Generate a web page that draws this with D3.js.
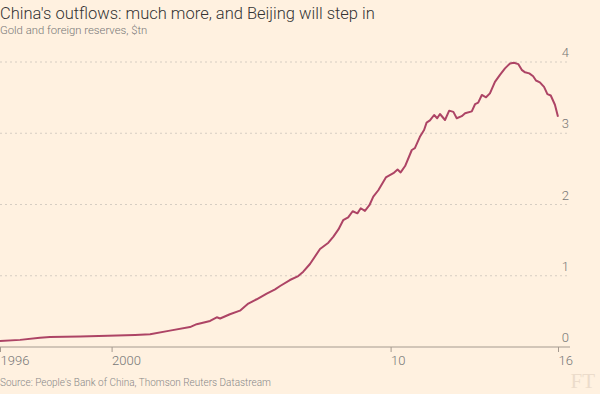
<!DOCTYPE html>
<html>
<head>
<meta charset="utf-8">
<script src="https://cdn.jsdelivr.net/npm/d3@7"></script>
<style>
  body { margin: 0; background: #fff1e0; }
  svg { display: block; font-family: Roboto, "Liberation Sans", sans-serif; }
</style>
</head>
<body>
<svg id="chart"></svg>
<script>
// Gold and foreign reserves, $tn (decimal years)
var dates = [1996.00, 1996.72, 1997.43, 1997.79, 1998.87, 1999.87, 2000.84, 2001.38, 2002.09, 2002.81,
    2003.05, 2003.53, 2003.77, 2003.89, 2004.24, 2004.60, 2004.90, 2005.20, 2005.56, 2005.86,
    2006.04, 2006.39, 2006.69, 2006.87, 2007.11, 2007.47, 2007.77, 2007.95, 2008.13, 2008.30,
    2008.48, 2008.64, 2008.81, 2008.93, 2009.08, 2009.24, 2009.38, 2009.56, 2009.83, 2010.10,
    2010.25, 2010.36, 2010.52, 2010.76, 2010.87, 2011.05, 2011.20, 2011.29, 2011.41, 2011.56,
    2011.67, 2011.77, 2011.95, 2012.10, 2012.25, 2012.37, 2012.55, 2012.67, 2012.91, 2013.03,
    2013.14, 2013.27, 2013.42, 2013.56, 2013.74, 2013.92, 2014.10, 2014.28, 2014.42, 2014.58,
    2014.70, 2014.82, 2014.97, 2015.11, 2015.21, 2015.35, 2015.50, 2015.62, 2015.74, 2015.89,
    2016.00];
var reserves = [0.084, 0.10, 0.13, 0.14, 0.148, 0.158, 0.17, 0.18, 0.23, 0.28,
    0.32, 0.365, 0.417, 0.40, 0.46, 0.51, 0.61, 0.67, 0.75, 0.81,
    0.856, 0.94, 0.996, 1.057, 1.165, 1.375, 1.464, 1.55, 1.65, 1.78,
    1.82, 1.905, 1.876, 1.947, 1.91, 1.99, 2.11, 2.20, 2.38, 2.44,
    2.49, 2.45, 2.54, 2.765, 2.79, 2.95, 3.046, 3.15, 3.18, 3.256,
    3.21, 3.27, 3.186, 3.317, 3.30, 3.21, 3.24, 3.28, 3.307, 3.41,
    3.43, 3.537, 3.505, 3.56, 3.72, 3.82, 3.91, 3.98, 3.99, 3.97,
    3.89, 3.855, 3.84, 3.80, 3.74, 3.715, 3.65, 3.55, 3.53, 3.40,
    3.23];

var xTicks = [1996, 2000, 2010, 2016];
var xTickLabels = ["1996", "2000", "10", "16"];
var yTicks = [0, 1, 2, 3, 4];

var width = 600, height = 394;

var svg = d3.select("#chart")
    .attr("width", width)
    .attr("height", height);

var x = d3.scaleLinear().domain([1996, 2016]).range([0, 558]);
var y = d3.scaleLinear().domain([0, 4]).range([347, 62]);

var series = dates.map(function(d, i) { return { date: d, value: reserves[i] }; });

// Title and subtitle
svg.append("text")
    .attr("x", 0)
    .attr("y", 19)
    .style("font-size", "16.5px")
    .style("font-weight", 300)
    .style("fill", "#333")
    .text("China's outflows: much more, and Beijing will step in");

svg.append("text")
    .attr("x", 0)
    .attr("y", 34)
    .style("font-size", "11.3px")
    .style("font-weight", 300)
    .style("fill", "#777")
    .text("Gold and foreign reserves, $tn");

// Dotted gridlines, labels sit just above them on the right
var grid = svg.append("g");
grid.selectAll("line")
    .data(yTicks.filter(function(d) { return d > 0; }))
    .enter().append("line")
    .attr("x1", 0)
    .attr("x2", 570)
    .attr("y1", function(d) { return y(d); })
    .attr("y2", function(d) { return y(d); })
    .style("stroke", "#d6cdc2")
    .style("stroke-dasharray", "2,3");

grid.selectAll("text")
    .data(yTicks)
    .enter().append("text")
    .attr("x", 569)
    .attr("y", function(d) { return y(d) - 5; })
    .attr("text-anchor", "end")
    .style("font-size", "13px")
    .style("font-weight", 300)
    .style("fill", "#777")
    .text(function(d) { return d; });

// Bottom axis
var xAxis = d3.axisBottom(x)
    .tickValues(xTicks)
    .tickSize(5)
    .tickFormat(function(d, i) { return xTickLabels[i]; });

var gx = svg.append("g")
    .attr("transform", "translate(0," + y(0) + ")")
    .call(xAxis);

gx.select(".domain").remove();
gx.insert("line", ":first-child")
    .attr("x1", 0)
    .attr("x2", 570)
    .style("stroke", "#a59a8f");
gx.selectAll(".tick line").style("stroke", "#a59a8f");
gx.selectAll(".tick text")
    .attr("text-anchor", "start")
    .attr("x", 0)
    .attr("y", 9)
    .style("font-size", "13px")
    .style("font-weight", 300)
    .style("font-family", "Roboto, 'Liberation Sans', sans-serif")
    .style("fill", "#777");

// The line
var line = d3.line()
    .x(function(d) { return x(d.date); })
    .y(function(d) { return y(d.value); });

svg.append("path")
    .datum(series)
    .attr("d", line)
    .style("fill", "none")
    .style("stroke", "#ad4465")
    .style("stroke-width", 2)
    .style("stroke-linejoin", "round");

// Source and logo
svg.append("text")
    .attr("x", 0)
    .attr("y", 386)
    .style("font-size", "10px")
    .style("font-weight", 300)
    .style("fill", "#888")
    .text("Source: People's Bank of China, Thomson Reuters Datastream");

svg.append("text")
    .attr("x", 595)
    .attr("y", 388)
    .attr("text-anchor", "end")
    .style("font-family", "'Liberation Serif', 'DejaVu Serif', serif")
    .style("font-size", "21px")
    .style("fill", "#ecdccb")
    .text("FT");
</script>
</body>
</html>
